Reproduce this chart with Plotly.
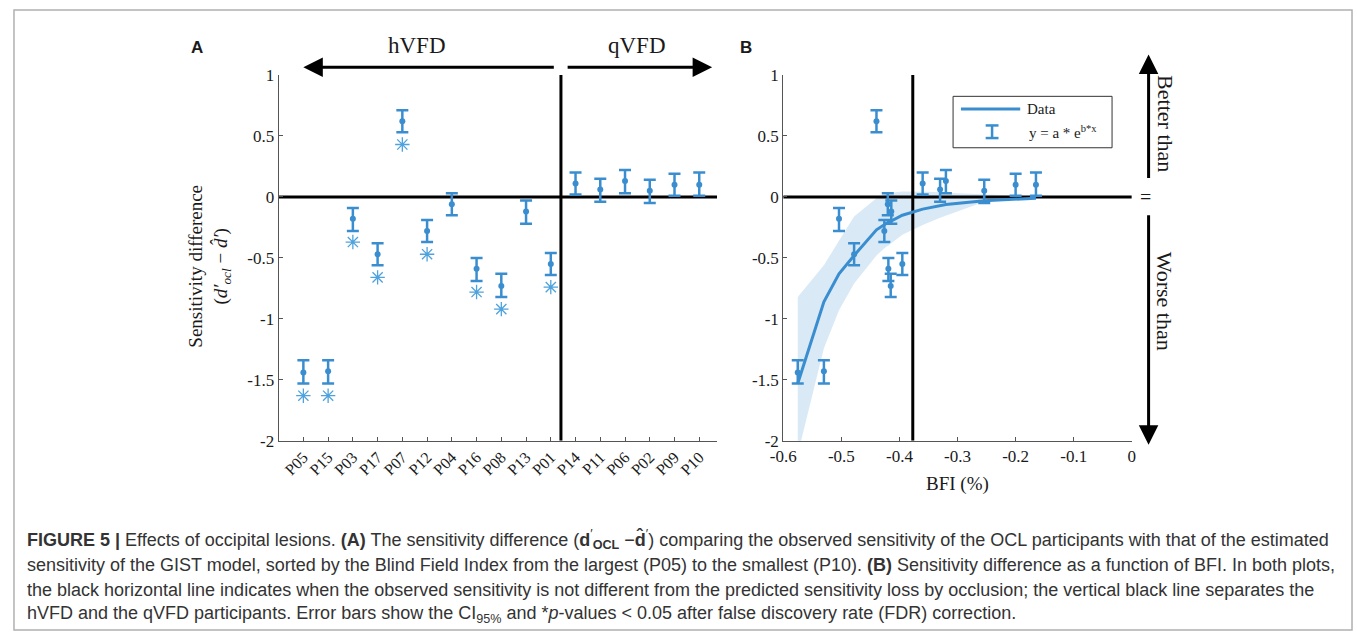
import plotly.graph_objects as go

W, H = 1357, 641

# ---------------- data ----------------
participants = ["P05", "P15", "P03", "P17", "P07", "P12", "P04", "P16", "P08",
                "P13", "P01", "P14", "P11", "P06", "P02", "P09", "P10"]
sens_diff = [-1.44, -1.43, -0.18, -0.47, 0.62, -0.28, -0.06, -0.59, -0.73,
             -0.12, -0.55, 0.11, 0.06, 0.13, 0.05, 0.10, 0.10]
ci_upper = [-1.34, -1.34, -0.09, -0.38, 0.71, -0.19, 0.03, -0.50, -0.63,
            -0.03, -0.46, 0.20, 0.15, 0.22, 0.14, 0.19, 0.20]
ci_lower = [-1.53, -1.53, -0.28, -0.56, 0.53, -0.37, -0.15, -0.69, -0.82,
            -0.22, -0.64, 0.02, -0.04, 0.03, -0.05, 0.01, 0.01]
star_y = [-1.63, -1.63, -0.37, -0.66, 0.43, -0.47, None, -0.78, -0.92,
          None, -0.74, None, None, None, None, None, None]
bfi = [-0.575, -0.530, -0.504, -0.478, -0.4395, -0.426, -0.420, -0.419, -0.415,
       -0.414, -0.395, -0.360, -0.330, -0.320, -0.254, -0.200, -0.165]
fit_y = [-1.53, -0.86, -0.63, -0.48, -0.27, -0.225, -0.21, -0.21, -0.20,
         -0.20, -0.15, -0.10, -0.07, -0.062, -0.032, -0.016, -0.01]
band_upper = [-0.82, -0.56, -0.36, -0.16, -0.01, 0.02, 0.03, 0.03, 0.035,
              0.035, 0.045, 0.045, 0.04, 0.035, 0.02, 0.008, 0.004]
band_lower = [-2.11, -1.24, -0.93, -0.71, -0.48, -0.42, -0.40, -0.40, -0.38,
              -0.38, -0.31, -0.23, -0.17, -0.15, -0.04, -0.015, -0.006]
split_a = 11.41      # hVFD / qVFD split on the participant axis
split_bfi = -0.377   # hVFD / qVFD split in BFI

y_ticks = [-2, -1.5, -1, -0.5, 0, 0.5, 1]
y_ticktext = ["-2", "-1.5", "-1", "-0.5", "0", "0.5", "1"]
bfi_ticks = [-0.6, -0.5, -0.4, -0.3, -0.2, -0.1, 0]
bfi_ticktext = ["-0.6", "-0.5", "-0.4", "-0.3", "-0.2", "-0.1", "0"]

# ---------------- style ----------------
BLUE = "#3a8ecf"
STAR = "#4ea2dd"
BAND = "#d9e9f6"
SERIF = "Liberation Serif, Times New Roman, serif"
SANS = "Liberation Sans, Arial, sans-serif"
NARROW = "Liberation Sans Narrow, Arial Narrow, Liberation Sans, sans-serif"
AX = "#555555"
TXT = "#1a1a1a"


def px(x):
    return x / W


def py(y):
    return 1 - y / H


xA_range = [0, 17.72]
xB_range = [-0.6, 0]
y_range = [-2, 1]
cat_x = list(range(1, len(participants) + 1))

fig = go.Figure()

# ----- Panel A -----
fig.add_trace(go.Scatter(x=xA_range, y=[0, 0], mode="lines",
                         line=dict(color="black", width=3), xaxis="x", yaxis="y",
                         showlegend=False, hoverinfo="skip"))
fig.add_trace(go.Scatter(x=[split_a, split_a], y=y_range, mode="lines",
                         line=dict(color="black", width=3), xaxis="x", yaxis="y",
                         showlegend=False, hoverinfo="skip"))
fig.add_trace(go.Scatter(
    x=cat_x, y=sens_diff, mode="markers", xaxis="x", yaxis="y",
    marker=dict(color=BLUE, size=6),
    error_y=dict(type="data", symmetric=False,
                 array=[u - m for u, m in zip(ci_upper, sens_diff)],
                 arrayminus=[m - l for m, l in zip(sens_diff, ci_lower)],
                 color=BLUE, thickness=2.5, width=6),
    showlegend=False))
fig.add_trace(go.Scatter(
    x=cat_x, y=star_y, mode="markers", xaxis="x", yaxis="y",
    marker=dict(symbol="asterisk-open", size=12, color=STAR,
                line=dict(color=STAR, width=1.3)),
    showlegend=False))

# ----- Panel B -----
fig.add_trace(go.Scatter(
    x=bfi + bfi[::-1], y=band_upper + band_lower[::-1], mode="lines",
    fill="toself", fillcolor=BAND, line=dict(width=0, color=BAND),
    xaxis="x2", yaxis="y2", showlegend=False, hoverinfo="skip"))
fig.add_trace(go.Scatter(x=xB_range, y=[0, 0], mode="lines",
                         line=dict(color="black", width=3), xaxis="x2", yaxis="y2",
                         showlegend=False, hoverinfo="skip"))
fig.add_trace(go.Scatter(x=[split_bfi, split_bfi], y=y_range, mode="lines",
                         line=dict(color="black", width=3), xaxis="x2", yaxis="y2",
                         showlegend=False, hoverinfo="skip"))
fig.add_trace(go.Scatter(x=bfi, y=fit_y, mode="lines",
                         line=dict(color=BLUE, width=3), xaxis="x2", yaxis="y2",
                         showlegend=False))
fig.add_trace(go.Scatter(
    x=bfi, y=sens_diff, mode="markers", xaxis="x2", yaxis="y2",
    marker=dict(color=BLUE, size=6),
    error_y=dict(type="data", symmetric=False,
                 array=[u - m for u, m in zip(ci_upper, sens_diff)],
                 arrayminus=[m - l for m, l in zip(sens_diff, ci_lower)],
                 color=BLUE, thickness=2.5, width=6),
    showlegend=False))

axis_common = dict(showgrid=False, zeroline=False, showline=True, linecolor=AX,
                   linewidth=1, ticks="inside", ticklen=4, tickcolor=AX,
                   tickfont=dict(family=SERIF, size=17, color=TXT))
ydom = [py(445), py(68)]

fig.update_layout(
    width=W, height=H, margin=dict(l=0, r=0, t=0, b=0),
    paper_bgcolor="white", plot_bgcolor="rgba(0,0,0,0)",
    xaxis=dict(domain=[px(269), px(713)], range=xA_range, tickmode="array",
               tickvals=cat_x, ticktext=participants, tickangle=-45,
               anchor="y", **{k: v for k, v in axis_common.items() if k != "tickfont"},
               tickfont=dict(family=SERIF, size=16, color=TXT)),
    yaxis=dict(domain=ydom, range=y_range, tickmode="array", tickvals=y_ticks,
               ticktext=y_ticktext, anchor="x", **axis_common),
    xaxis2=dict(domain=[px(780), px(1133)], range=xB_range, tickmode="array",
                tickvals=bfi_ticks, ticktext=bfi_ticktext, anchor="y2", **axis_common),
    yaxis2=dict(domain=ydom, range=y_range, tickmode="array", tickvals=y_ticks,
                ticktext=y_ticktext, anchor="x2", **axis_common),
)

ann = []


def text(x, y, s, size, family=SERIF, xanchor="center", yanchor="middle",
         angle=0, color=TXT, align="center"):
    ann.append(dict(x=px(x), y=py(y), xref="paper", yref="paper", text=s,
                    showarrow=False, xanchor=xanchor, yanchor=yanchor, align=align,
                    textangle=angle, font=dict(family=family, size=size, color=color)))


def arrow(x_tip, y_tip, x_tail, y_tail):
    ann.append(dict(x=px(x_tip), y=py(y_tip), xref="paper", yref="paper", text="",
                    showarrow=True, ax=x_tail - x_tip, ay=y_tail - y_tip,
                    axref="pixel", ayref="pixel", arrowhead=2, arrowsize=1.3,
                    arrowwidth=3, arrowcolor="black", standoff=0, startstandoff=0))


text(186, 40, "<b>A</b>", 17, family=SANS)
text(742, 40, "<b>B</b>", 17, family=SANS)
text(409, 38, "hVFD", 23)
text(632, 38, "qVFD", 23)
arrow(294, 60, 546, 60)
arrow(708, 60, 562, 60)
text(199, 265, "Sensitivity difference<br>(<i>d′</i><sub><i>ocl</i></sub> − <i>d̂′</i>)",
     19, angle=-90)
text(956, 490, "BFI (%)", 19)

# right-hand annotations of panel B
arrow(1150, 47, 1150, 172)
arrow(1150, 449, 1150, 218)
text(1147, 194, "=", 20)
text(1167, 118, "Better than", 22, angle=90)
text(1167, 301, "Worse than", 22, angle=90)

# legend of panel B
text(1025, 103, "Data", 15, xanchor="left")
text(1027, 127, "y = a * e<sup>b*x</sup>", 15, xanchor="left")

# caption
cap = [
    "<b>FIGURE 5 |</b> Effects of occipital lesions. <b>(A)</b> The sensitivity difference "
    "(<b>d</b><sup>′</sup><sub><b>OCL</b></sub> −<b>d̂</b><sup>′</sup>) comparing the observed "
    "sensitivity of the OCL participants with that of the estimated",
    "sensitivity of the GIST model, sorted by the Blind Field Index from the largest (P05) to the "
    "smallest (P10). <b>(B)</b> Sensitivity difference as a function of BFI. In both plots,",
    "the black horizontal line indicates when the observed sensitivity is not different from the "
    "predicted sensitivity loss by occlusion; the vertical black line separates the",
    "hVFD and the qVFD participants. Error bars show the CI<sub>95%</sub> and *<i>p</i>-values "
    "&lt; 0.05 after false discovery rate (FDR) correction.",
]
for i, line in enumerate(cap):
    text(12, 547 + i * 25.7, line, 18, family=NARROW, xanchor="left",
         color="#333333", align="left")

shapes = []
# figure frame
shapes.append(dict(type="rect", xref="paper", yref="paper", x0=px(1), x1=px(1356),
                   y0=py(640), y1=py(1), line=dict(color="#b0b0b0", width=1.5)))
# legend box
shapes.append(dict(type="rect", xref="paper", yref="paper", x0=px(952), x1=px(1113),
                   y0=py(143), y1=py(90), line=dict(color="#333333", width=1),
                   fillcolor="white"))
shapes.append(dict(type="line", xref="paper", yref="paper", x0=px(960), x1=px(1020),
                   y0=py(103), y1=py(103), line=dict(color=BLUE, width=3)))
shapes.append(dict(type="line", xref="paper", yref="paper", x0=px(991.5), x1=px(991.5),
                   y0=py(120), y1=py(133), line=dict(color=BLUE, width=2.5)))
for yy in (120, 133):
    shapes.append(dict(type="line", xref="paper", yref="paper", x0=px(985), x1=px(998),
                       y0=py(yy), y1=py(yy), line=dict(color=BLUE, width=2.5)))

fig.update_layout(annotations=ann, shapes=shapes)
fig.write_html("out.html")
